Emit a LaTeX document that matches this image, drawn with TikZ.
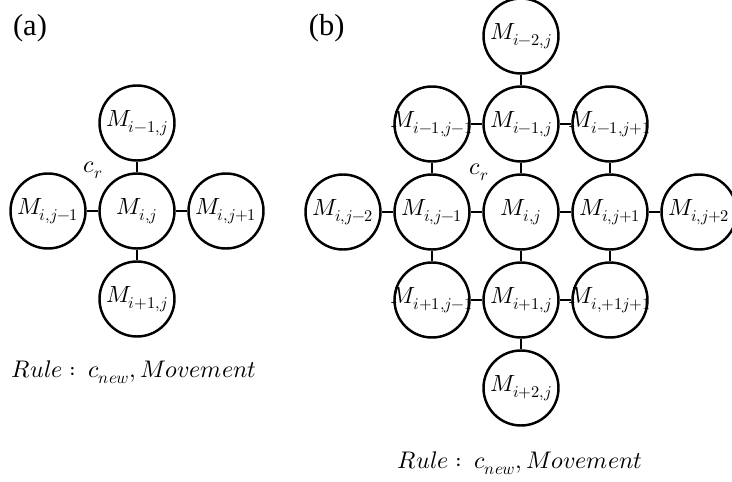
\documentclass[tikz,border=0pt]{standalone}
\usepackage{amsmath}
\usepackage{fontspec}
\usepackage{unicode-math}
\setmainfont{Liberation Serif}
\setmathfont{Latin Modern Math}
\usetikzlibrary{positioning, calc}

\newcommand{\mlab}[1]{\makebox[0pt]{$M_{#1}$}}

\tikzset{
    cell/.style={draw, circle, line width=2.1pt, minimum size=2.25cm,
        inner sep=0pt, font=\fontsize{20}{24}\selectfont},
    link/.style={line width=2.1pt},
    tag/.style={font=\fontsize{26}{30}\selectfont},
    note/.style={font=\fontsize{20.5}{24}\selectfont}
}

\begin{document}
\begin{tikzpicture}[node distance=2.64cm and 2.67cm, on grid]
\useasboundingbox (0,0) rectangle (21.96,-14.46);

% === (a) vecindad de 4 ===
\node[tag] (taga) at (0.9,-0.84) {(a)};

\node[cell] (ac) at (4.11,-6.33) {\mlab{i,j}};
\node[cell, above=of ac] (an) {\mlab{i-1,j}};
\node[cell, below=of ac] (as) {\mlab{i+1,j}};
\node[cell, left=of ac] (aw) {\mlab{i,j-1}};
\node[cell, right=of ac] (ae) {\mlab{i,j+1}};

\foreach \v in {an, as, aw, ae}
    \draw[link] (ac) -- (\v);

\node[note] (cra) at ($(ac)+(-1.32,1.23)$) {$c_r$};
\node[note] (rulea) at (4.02,-11.16) {$Rule :\ c_{new}, Movement$};

% === (b) vecindad de 12 ===
\node[tag] (tagb) at (9.8,-0.84) {(b)};

\node[cell] (bc) at (15.63,-6.36) {\mlab{i,j}};
\node[cell, above=of bc] (bn) {\mlab{i-1,j}};
\node[cell, above=of bn] (bnn) {\mlab{i-2,j}};
\node[cell, below=of bc] (bs) {\mlab{i+1,j}};
\node[cell, below=of bs] (bss) {\mlab{i+2,j}};
\node[cell, left=of bc] (bw) {\mlab{i,j-1}};
\node[cell, left=of bw] (bww) {\mlab{i,j-2}};
\node[cell, right=of bc] (be) {\mlab{i,j+1}};
\node[cell, right=of be] (bee) {\mlab{i,j+2}};
\node[cell, left=of bn] (bnw) {\mlab{i-1,j-1}};
\node[cell, right=of bn] (bne) {\mlab{i-1,j+1}};
\node[cell, left=of bs] (bsw) {\mlab{i+1,j-1}};
\node[cell, right=of bs] (bse) {\mlab{i,+1j+1}};

% Conexiones
\foreach \u/\v in {bww/bw, bw/bc, bc/be, be/bee, bnw/bn, bn/bne, bsw/bs, bs/bse,
    bnn/bn, bn/bc, bc/bs, bs/bss, bnw/bw, bw/bsw, bne/be, be/bse}
    \draw[link] (\u) -- (\v);

\node[note] (crb) at ($(bc)+(-1.26,1.2)$) {$c_r$};
\node[note] (ruleb) at (15.6,-13.89) {$Rule :\ c_{new}, Movement$};

\end{tikzpicture}
\end{document}
